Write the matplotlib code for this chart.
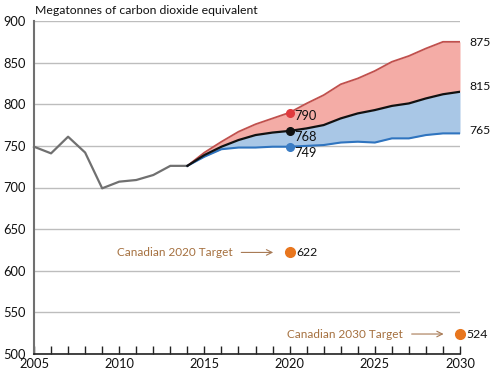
import matplotlib
matplotlib.use("Agg")
import matplotlib.pyplot as plt
import numpy as np

plt.rcParams['font.family'] = ['Lato', 'DejaVu Sans']

# historical emissions (Mt CO2e)
hist_years = list(range(2005, 2015))
hist_vals = [749, 741, 761, 742, 699, 707, 709, 715, 726, 726]

# projections 2014-2030
proj_years = list(range(2014, 2031))
high_vals = [726, 742, 755, 767, 776, 783, 790, 801, 811, 824, 831, 840, 851, 858, 867, 875, 875]
ref_vals = [726, 739, 749, 757, 763, 766, 768, 771, 775, 783, 789, 793, 798, 801, 807, 812, 815]
low_vals = [726, 737, 746, 748, 748, 749, 749, 750, 751, 754, 755, 754, 759, 759, 763, 765, 765]

target_years = [2020, 2030]
target_vals = [622, 524]
target_labels = ["Canadian 2020 Target", "Canadian 2030 Target"]

fig = plt.figure(figsize=(4.9, 3.72), dpi=100)
ax = fig.add_axes([34 / 490, 18 / 372, 426 / 490, 333 / 372])

ax.set_xlim(2005, 2030)
ax.set_ylim(500, 900)
ax.set_yticks(range(500, 901, 50))
ax.set_xticks(range(2005, 2031, 5))
ax.set_xticks(range(2005, 2031), minor=True)
ax.grid(axis='y', color='#bdbdbd', linewidth=1)
ax.set_axisbelow(True)
for s in ['top', 'right']:
    ax.spines[s].set_visible(False)
ax.spines['left'].set_color('#707070')
ax.spines['left'].set_linewidth(1.5)
ax.spines['bottom'].set_color('#222222')
ax.spines['bottom'].set_linewidth(1.2)
ax.tick_params(axis='y', length=0, pad=6, labelsize=9.3, colors='#111111')
ax.tick_params(axis='x', which='both', direction='in', length=6, width=1,
               color='#222222', labelsize=9.3, pad=3, labelcolor='#111111')

# shaded ranges
ax.fill_between(proj_years, ref_vals, high_vals, color='#f4aca6', lw=0)
ax.fill_between(proj_years, low_vals, ref_vals, color='#a9c7e6', lw=0)

ax.plot(hist_years, hist_vals, color='#707070', lw=1.6, clip_on=False)
ax.plot(proj_years, high_vals, color='#c0504d', lw=1.3)
ax.plot(proj_years, low_vals, color='#2f74bf', lw=1.5)
ax.plot(proj_years, ref_vals, color='#111111', lw=1.6)

# 2020 markers
i20 = proj_years.index(2020)
for vals, c, dy in [(high_vals, '#e03a3e', -4), (ref_vals, '#111111', -7), (low_vals, '#3a7cc4', -7)]:
    ax.plot(2020, vals[i20], 'o', color=c, ms=5.5, zorder=5)
    ax.text(2020.3, vals[i20] + dy, str(vals[i20]), fontsize=9.3, va='center', color='#111111')

# end labels
for vals, dy in [(high_vals, -1), (ref_vals, 6), (low_vals, 4)]:
    ax.text(2030.55, vals[-1] + dy, str(vals[-1]), fontsize=8.8, va='center',
            color='#111111', clip_on=False)

# targets
for yr, v, lab in zip(target_years, target_vals, target_labels):
    ax.plot(yr, v, 'o', color='#e8761e', ms=7, zorder=5, clip_on=False)
    ax.text(yr + 0.38, v, str(v), fontsize=8.8, va='center', color='#111111')
    ax.annotate('', xy=(yr - 0.8, v), xytext=(yr - 3.0, v),
                arrowprops=dict(arrowstyle='->', color='#a87a55', lw=0.8))
    ax.text(yr - 3.35, v, lab, fontsize=8.5, va='center', ha='right', color='#a5703f')

fig.text(35 / 490, 1 - 11 / 372, "Megatonnes of carbon dioxide equivalent", fontsize=8.8,
         va='center', ha='left', color='#111111')

fig.savefig("out.png", dpi=100)
